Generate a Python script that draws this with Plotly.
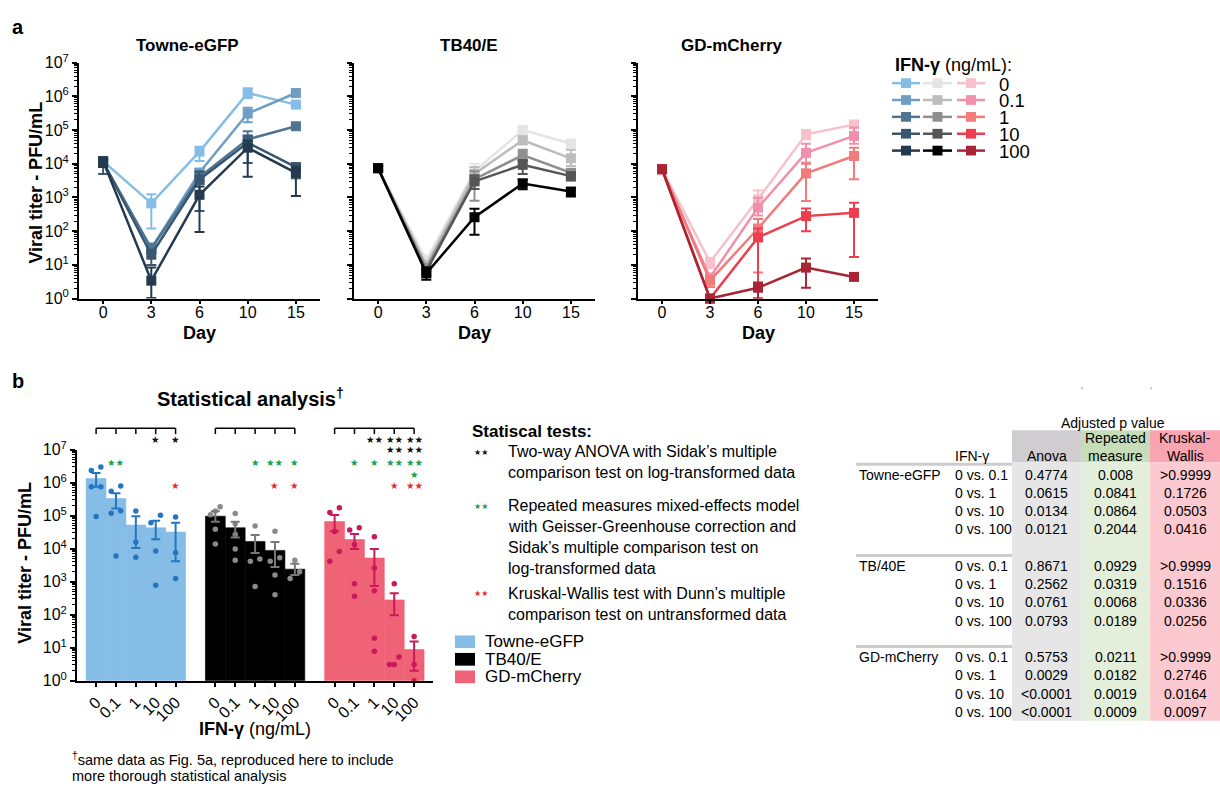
import plotly.graph_objects as go
import numpy as np

W, H = 1220, 796
FONT = "Liberation Sans, Arial, Helvetica, sans-serif"
STAR_FONT = "DejaVu Sans"

# ---------------- DATA ----------------
days = ["0", "3", "6", "10", "15"]
ifn_levels = ["0", "0.1", "1", "10", "100"]
strains = ["Towne-eGFP", "TB40/E", "GD-mCherry"]
table_strains = ["Towne-eGFP", "TB/40E", "GD-mCherry"]

# Panel a: mean viral titer per IFN level (rows) per day (cols), with error-bar ends
towne_mean = [[1.2e4, 6.7e2, 2.3e4, 1.26e6, 5.7e5],
              [1.1e4, 31, 5.5e3, 3.1e5, 1.26e6],
              [1.1e4, 30, 4.0e3, 5.3e4, 1.3e5],
              [1.15e4, 20, 3.4e3, 4.2e4, 8.0e3],
              [1.2e4, 3.4, 1.2e3, 3.0e4, 5.4e3]]
towne_hi = [[1.5e4, 1.25e3, 3.2e4, 1.75e6, 6.5e5],
            [1.3e4, 44, 7.0e3, 4.6e5, 1.4e6],
            [1.3e4, 40, 6.0e3, 9.3e4, 1.45e5],
            [1.4e4, 28, 5.8e3, 6.7e4, 1.0e4],
            [1.4e4, 8.3, 2.1e3, 4.8e4, 8.3e3]]
towne_lo = [[9.0e3, 1.2e2, 1.2e4, 9.0e5, 5.0e5],
            [9.0e3, 22, 4.0e3, 1.7e5, 1.1e6],
            [9.0e3, 22, 2.5e3, 2.4e4, 1.15e5],
            [5.0e3, 10, 4.0e2, 1.05e4, 3.7e3],
            [8.0e3, 1.05, 95, 4.1e3, 1.1e3]]

tb_mean = [[7.4e3, 14, 6.0e3, 1.0e5, 4.0e4],
           [7.4e3, 10, 5.0e3, 5.0e4, 1.45e4],
           [7.4e3, 8, 3.5e3, 1.8e4, 5.4e3],
           [7.4e3, 6.5, 3.0e3, 9.3e3, 4.3e3],
           [7.4e3, 5.6, 2.6e2, 2.6e3, 1.5e3]]
tb_hi = [[8.5e3, 18, 1.0e4, 1.3e5, 4.8e4],
         [8.5e3, 13, 8.0e3, 6.5e4, 2.6e4],
         [8.5e3, 10, 6.0e3, 2.6e4, 7.0e3],
         [8.5e3, 8.5, 4.5e3, 1.3e4, 5.5e3],
         [8.5e3, 8.3, 4.6e2, 3.4e3, 1.9e3]]
tb_lo = [[6.3e3, 10, 3.0e3, 7.7e4, 3.3e4],
         [6.3e3, 7, 2.5e3, 3.8e4, 8.6e3],
         [6.3e3, 5, 8.0e2, 1.2e4, 4.0e3],
         [6.3e3, 4.5, 1.8e3, 5.0e3, 3.2e3],
         [6.3e3, 3.6, 78, 1.75e3, 1.07e3]]

gd_mean = [[6.9e3, 12, 8.8e2, 7.5e4, 1.45e5],
           [6.9e3, 4.2, 5.0e2, 2.1e4, 6.7e4],
           [6.9e3, 3.4, 1.2e2, 5.2e3, 1.7e4],
           [6.9e3, 1.0, 65, 2.8e2, 3.5e2],
           [6.9e3, 1.0, 2.1, 8.3, 4.4]]
gd_hi = [[8.0e3, 16, 1.6e3, 1.0e5, 1.9e5],
         [8.0e3, 5.5, 9.8e2, 3.9e4, 1.2e5],
         [8.0e3, 4.7, 2.3e2, 1.0e4, 3.0e4],
         [8.0e3, 1.0, 1.2e2, 4.7e2, 7.0e2],
         [8.0e3, 1.0, 3.0, 15.4, 5.2]]
gd_lo = [[6.0e3, 8, 5.6e2, 5.3e4, 1.2e5],
         [6.0e3, 3.0, 2.9e2, 1.1e4, 3.9e4],
         [6.0e3, 2.2, 5.9, 7.9e2, 3.5e3],
         [6.0e3, 1.0, 1.0, 1.0e2, 17],
         [6.0e3, 1.0, 1.0, 2.1, 3.8]]

# Panel b: day-10 titers (bar = mean, error = SEM ends, dots = replicates)
towne_bar = [1.34e6, 3.3e5, 5.2e4, 4.3e4, 3.2e4]
towne_bar_hi = [1.95e6, 4.8e5, 9.7e4, 7.0e4, 6.1e4]
towne_bar_lo = [7.6e5, 1.66e5, 1.05e4, 1.94e4, 4.2e3]
tb_bar = [9.7e4, 4.3e4, 1.66e4, 8.9e3, 2.4e3]
tb_bar_hi = [1.36e5, 6.6e4, 2.6e4, 1.6e4, 3.5e3]
tb_bar_lo = [6.6e4, 2.2e4, 7.4e3, 2.8e3, 1.6e3]
gd_bar = [6.7e4, 1.9e4, 5.2e3, 2.8e2, 8.8]
gd_bar_hi = [1.05e5, 2.8e4, 9.8e3, 4.5e2, 15.4]
gd_bar_lo = [3.4e4, 9.8e3, 7.4e2, 97, 2.0]

towne_dots = [[2.35e6, 3.0e6, 7.6e5, 7.6e5, 9.5e4],
              [7.9e5, 5.5e5, 1.18e5, 1.42e5, 6.0e3],
              [1.38e5, 1.6e4, 5.5e3],
              [1.03e5, 6.1e4, 8.5e3, 7.8e2],
              [9.1e4, 7.6e3, 1.25e3]]
tb_dots = [[1.07e5, 1.86e5, 1.4e5, 3.9e4, 1.4e4],
           [1.16e5, 5.7e4, 2.7e4, 9.8e3, 4.5e3],
           [4.9e4, 4.2e3, 4.9e3, 7.2e2],
           [3.4e4, 4.2e3, 5.3e3, 1.6e3, 4.0e2],
           [4.5e3, 1.25e3, 2.0e3]]
gd_dots = [[1.26e5, 1.74e5, 3.3e4, 8.2e3, 4.2e3],
           [3.7e4, 4.3e4, 1.35e4, 8.7e2, 3.6e2],
           [2.3e4, 2.6e3, 5.3e2, 19.5, 7.8],
           [8.7e2, 5.2, 3.1, 3.1],
           [21.7, 3.1, 1.0]]

# Adjusted p values (0 vs 0.1, 1, 10, 100)
anova_p = [["0.4774", "0.0615", "0.0134", "0.0121"],
           ["0.8671", "0.2562", "0.0761", "0.0793"],
           ["0.5753", "0.0029", "<0.0001", "<0.0001"]]
rm_p = [["0.008", "0.0841", "0.0864", "0.2044"],
        ["0.0929", "0.0319", "0.0068", "0.0189"],
        ["0.0211", "0.0182", "0.0019", "0.0009"]]
kw_p = [[">0.9999", "0.1726", "0.0503", "0.0416"],
        [">0.9999", "0.1516", "0.0336", "0.0256"],
        [">0.9999", "0.2746", "0.0164", "0.0097"]]

tick_exponents = list(range(0, 8))

# ---------------- STYLE ----------------
line_colors = [
    ["#85bde6", "#6f9ec4", "#4f7592", "#3a5770", "#243a4e"],
    ["#e4e4e4", "#bdbdbd", "#8f8f8f", "#555555", "#000000"],
    ["#f7c1cc", "#f090ab", "#f27b7b", "#ee3d4e", "#a92535"],
]
bar_colors = ["#85bde6", "#000000", "#f06276"]
dot_colors = ["#2476c0", "#8a8a8a", "#c81a5a"]
err_colors = ["#2476c0", "#777777", "#c81a5a"]
ANOVA_C, RM_C, KW_C = "#111111", "#17a050", "#ee2a2a"

means = [towne_mean, tb_mean, gd_mean]
his = [towne_hi, tb_hi, gd_hi]
los = [towne_lo, tb_lo, gd_lo]
bars = [towne_bar, tb_bar, gd_bar]
bars_hi = [towne_bar_hi, tb_bar_hi, gd_bar_hi]
bars_lo = [towne_bar_lo, tb_bar_lo, gd_bar_lo]
dots = [towne_dots, tb_dots, gd_dots]


def X(px):
    return px / W


def Y(py):
    return 1 - py / H


fig = go.Figure()

panel_x = [(79, 320), (354, 595), (638, 878)]
top_y = (53, 295)
bar_x = (77, 433)
bar_y = (450, 687)

tickvals = [10.0 ** e for e in tick_exponents]
ticktext = ["10<sup>%d</sup>" % e for e in tick_exponents]
minor_vals = [m * 10.0 ** e for e in tick_exponents[:-1] for m in range(2, 10)]


def yaxis_cfg(dom, anchor, show_labels):
    return dict(domain=[Y(dom[1]), Y(dom[0])], anchor=anchor, type="log", range=[0, 7],
                tickmode="array", tickvals=tickvals, ticktext=ticktext,
                showticklabels=show_labels, ticks="outside", ticklen=5, tickwidth=2,
                tickcolor="black", showline=True, linewidth=2, linecolor="black",
                showgrid=False, zeroline=False,
                tickfont=dict(family=FONT, size=16, color="black"),
                minor=dict(tickmode="array", tickvals=minor_vals, ticks="outside",
                           ticklen=3, tickwidth=1.2, tickcolor="black", showgrid=False))


layout = dict(width=W, height=H, margin=dict(l=0, r=0, t=0, b=0), autosize=False,
              paper_bgcolor="white", plot_bgcolor="white", showlegend=False,
              font=dict(family=FONT, color="black"))

for p in range(3):
    sx = "" if p == 0 else str(p + 1)
    layout["xaxis" + sx] = dict(domain=[X(panel_x[p][0]), X(panel_x[p][1])], anchor="y" + sx,
                                type="category", range=[-0.5, 4.5], showline=True, linewidth=2,
                                linecolor="black", ticks="outside", ticklen=3, tickwidth=2,
                                tickcolor="black", showgrid=False, zeroline=False,
                                ticklabelstandoff=-5,
                                tickfont=dict(family=FONT, size=16, color="black"))
    layout["yaxis" + sx] = yaxis_cfg(top_y, "x" + sx, p == 0)
    for i in range(len(ifn_levels)):
        m = means[p][i]
        c = line_colors[p][i]
        fig.add_trace(go.Scatter(
            x=days, y=m, mode="lines+markers", xaxis="x" + sx, yaxis="y" + sx,
            line=dict(color=c, width=2.5),
            marker=dict(symbol="square", size=10, color=c),
            error_y=dict(type="data", symmetric=False,
                         array=[h - v for h, v in zip(his[p][i], m)],
                         arrayminus=[v - l for v, l in zip(m, los[p][i])],
                         color=c, thickness=2, width=5),
            cliponaxis=False, showlegend=False))

# Panel b axes
layout["xaxis4"] = dict(domain=[X(bar_x[0]), X(bar_x[1])], anchor="y4", range=[-0.96, 16.95],
                        tickmode="array",
                        tickvals=[g * 6 + i for g in range(3) for i in range(5)],
                        ticktext=ifn_levels * 3, tickangle=-45,
                        showline=True, linewidth=2, linecolor="black", ticks="outside",
                        ticklen=4, tickwidth=2, tickcolor="black", showgrid=False,
                        zeroline=False, tickfont=dict(family=FONT, size=16, color="black"))
layout["yaxis4"] = yaxis_cfg(bar_y, "x4", True)


def jitter(vals, thr=0.3, spread=0.24):
    lv = np.log10(vals)
    order = np.argsort(lv)
    offs = np.zeros(len(vals))
    clusters, cur = [], [order[0]]
    for a, b in zip(order[:-1], order[1:]):
        if lv[b] - lv[a] < thr:
            cur.append(b)
        else:
            clusters.append(cur)
            cur = [b]
    clusters.append(cur)
    for cl in clusters:
        if len(cl) > 1:
            for k, idx in enumerate(cl):
                offs[idx] = -spread + 2 * spread * k / (len(cl) - 1)
    return offs


for g in range(3):
    pos = [g * 6 + i for i in range(5)]
    fig.add_trace(go.Bar(x=pos, y=bars[g], width=1,
                         marker=dict(color=bar_colors[g], line=dict(width=0.6, color=bar_colors[g])),
                         xaxis="x4", yaxis="y4", showlegend=False))
    dx, dy = [], []
    for i in range(5):
        offs = jitter(dots[g][i])
        for v, o in zip(dots[g][i], offs):
            dx.append(pos[i] + o)
            dy.append(v)
    fig.add_trace(go.Scatter(x=dx, y=dy, mode="markers", xaxis="x4", yaxis="y4",
                             marker=dict(size=5.5, color=dot_colors[g]), cliponaxis=False,
                             showlegend=False))
    fig.add_trace(go.Scatter(x=pos, y=bars[g], mode="markers", xaxis="x4", yaxis="y4",
                             marker=dict(size=1, color="rgba(0,0,0,0)"),
                             error_y=dict(type="data", symmetric=False,
                                          array=[h - v for h, v in zip(bars_hi[g], bars[g])],
                                          arrayminus=[v - l for v, l in zip(bars[g], bars_lo[g])],
                                          color=err_colors[g], thickness=2, width=4.5),
                             showlegend=False))

fig.update_layout(**layout)

shapes = []
ann = []


def text(x, y, s, size=16, bold=False, color="black", xanchor="left", yanchor="middle",
         family=FONT, angle=0, xref="paper"):
    if bold:
        s = "<b>%s</b>" % s
    ann.append(dict(x=x if xref != "paper" else X(x), y=Y(y), xref=xref, yref="paper", text=s,
                    showarrow=False, xanchor=xanchor, yanchor=yanchor, textangle=angle,
                    font=dict(family=family, size=size, color=color)))


# Panel labels & titles
text(10, 16, "a", 20, True)
text(10, 380, "b", 20, True)
title_cx = [187, 469, 732]
for p in range(3):
    text(title_cx[p], 35, strains[p], 17, True, xanchor="center")
    text((panel_x[p][0] + panel_x[p][1]) / 2, 330, "Day", 18, True, xanchor="center")
text(36, 176, "Viral titer - PFU/mL", 18, True, xanchor="center", angle=-90)

# Legend a
text(893, 55, "<b>IFN-γ</b> (ng/mL):", 18)
leg_cols = [(892, 920), (923, 952), (957, 985)]
for i, lev in enumerate(ifn_levels):
    yy = 74 + i * 17.3
    for p in range(3):
        c = line_colors[p][i]
        x0, x1 = leg_cols[p]
        shapes.append(dict(type="line", xref="paper", yref="paper", x0=X(x0), x1=X(x1),
                           y0=Y(yy), y1=Y(yy), line=dict(color=c, width=2.5)))
        xc = (x0 + x1) / 2
        shapes.append(dict(type="rect", xref="paper", yref="paper", x0=X(xc - 5), x1=X(xc + 5),
                           y0=Y(yy + 5), y1=Y(yy - 5), fillcolor=c, line=dict(width=0)))
    text(997, yy + 1, lev, 18.5)

# Panel b titles
text(250, 396, "Statistical analysis<sup>†</sup>", 20, True, xanchor="center")
text(25, 566, "Viral titer - PFU/mL", 18, True, xanchor="center", angle=-90)
text(255, 737, "<b>IFN-γ</b> (ng/mL)", 18, xanchor="center")
text(70, 767, "<sup>†</sup>same data as Fig. 5a, reproduced here to include", 14.5)
text(70, 785, "more thorough statistical analysis", 14.5)

# Legend b
for g in range(3):
    yy = 647 + g * 18
    shapes.append(dict(type="rect", xref="paper", yref="paper", x0=X(455), x1=X(475),
                       y0=Y(yy + 6.5), y1=Y(yy - 6.5), fillcolor=bar_colors[g], line=dict(width=0)))
    text(483, yy, strains[g], 17)


# Significance brackets and stars from the p values
def n_stars(s):
    v = 5e-5 if s.startswith("<") else (1.0 if s.startswith(">") else float(s))
    return 4 if v < 0.0001 else 3 if v < 0.001 else 2 if v < 0.01 else 1 if v < 0.05 else 0


STAR_SIZE = 9.5
for g in range(3):
    pos = [g * 6 + i for i in range(5)]
    shapes.append(dict(type="line", xref="x4", yref="paper", x0=pos[0], x1=pos[-1],
                       y0=Y(428), y1=Y(428), line=dict(color="black", width=1.5)))
    for pp in pos:
        shapes.append(dict(type="line", xref="x4", yref="paper", x0=pp, x1=pp,
                           y0=Y(428), y1=Y(434), line=dict(color="black", width=1.5)))
    for k in range(4):
        xp = pos[k + 1]
        for plist, col, rows in ((anova_p, ANOVA_C, (440, 450)), (rm_p, RM_C, (463, 475)),
                                 (kw_p, KW_C, (487, 497))):
            n = n_stars(plist[g][k])
            if n == 0:
                continue
            first = min(n, 2)
            text(xp, rows[0], "★" * first, STAR_SIZE, color=col, xanchor="center",
                 family=STAR_FONT, xref="x4")
            if n > 2:
                text(xp, rows[1], "★" * (n - 2), STAR_SIZE, color=col, xanchor="center",
                     family=STAR_FONT, xref="x4")

# Statistical tests legend
text(470, 431, "Statiscal tests:", 17, True)
test_blocks = [
    (ANOVA_C, 452, ["Two-way ANOVA with Sidak’s multiple", "comparison test on log-transformed data"]),
    (RM_C, 507, ["Repeated measures mixed-effects model", "with Geisser-Greenhouse correction and",
                 "Sidak’s multiple comparison test on", "log-transformed data"]),
    (KW_C, 597, ["Kruskal-Wallis test with Dunn’s multiple", "comparison test on untransformed data"]),
]
for col, y0, lines in test_blocks:
    text(472, y0 + 1, "★★", 8, color=col, family=STAR_FONT)
    for j, ln in enumerate(lines):
        text(506, y0 + j * 21.7, ln, 16)

# Table
col_edges = [1012, 1081, 1150, 1220]
head_fill = ["#cfcdcf", "#c7ddb7", "#f9a5b1"]
body_fill = ["#e6e6e6", "#e3efda", "#fdc9d1"]
for c in range(3):
    shapes.append(dict(type="rect", xref="paper", yref="paper", layer="below",
                       x0=X(col_edges[c]), x1=X(col_edges[c + 1]), y0=Y(463), y1=Y(430),
                       fillcolor=head_fill[c], line=dict(width=0)))
    shapes.append(dict(type="rect", xref="paper", yref="paper", layer="below",
                       x0=X(col_edges[c]), x1=X(col_edges[c + 1]), y0=Y(728), y1=Y(463),
                       fillcolor=body_fill[c], line=dict(width=0)))
for mx in (1082, 1151):
    shapes.append(dict(type="rect", xref="paper", yref="paper", x0=X(mx - 1), x1=X(mx + 1),
                       y0=Y(388), y1=Y(386), fillcolor="#c8c8c8", line=dict(width=0)))
text(1113, 423, "Adjusted p value", 14, xanchor="center")
text(953, 456, "IFN-γ", 14)
col_cx = [(col_edges[c] + col_edges[c + 1]) / 2 for c in range(3)]
text(col_cx[0], 456, "Anova", 14, xanchor="center")
text(col_cx[1], 438, "Repeated", 14, xanchor="center")
text(col_cx[1], 456, "measure", 14, xanchor="center")
text(col_cx[2], 438, "Kruskal-", 14, xanchor="center")
text(col_cx[2], 456, "Wallis", 14, xanchor="center")
for g in range(3):
    ysep = 465 + g * 93.5
    shapes.append(dict(type="line", xref="paper", yref="paper", x0=X(856), x1=X(1012),
                       y0=Y(ysep), y1=Y(ysep), line=dict(color="#cccccc", width=3)))
    y0 = 476 + g * 93.5
    text(857, y0, table_strains[g], 14)
    for k in range(4):
        yy = y0 + k * 18.6
        text(953, yy, "0 vs. " + ifn_levels[k + 1], 14)
        for c, plist in enumerate((anova_p, rm_p, kw_p)):
            text(col_cx[c], yy, plist[g][k], 14, xanchor="center")

fig.update_layout(shapes=shapes, annotations=ann)
fig.write_html("out.html")
